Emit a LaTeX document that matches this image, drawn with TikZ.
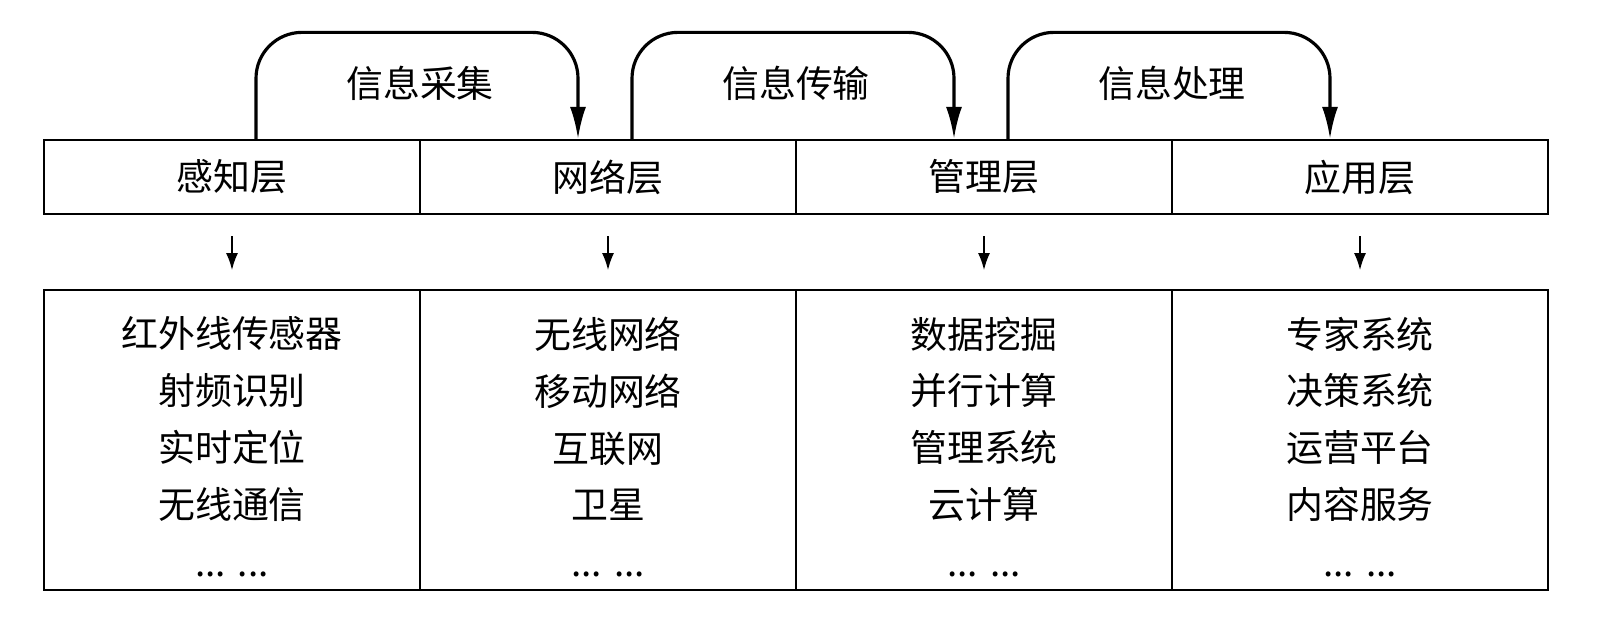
\documentclass[tikz,border=0pt]{standalone}
\usepackage{fontspec}
\newfontfamily\cjk{Noto Sans CJK SC}
\usepackage{tikz}
\usetikzlibrary{arrows.meta,positioning,calc}

\begin{document}
\begin{tikzpicture}[
  x=1cm,y=1cm,
  font=\cjk\fontsize{10.5pt}{16.2pt}\selectfont,
  layer/.style={draw, line width=0.5pt, minimum width=3.76cm, minimum height=0.745cm, inner sep=0pt},
  techbox/.style={draw, line width=0.5pt, minimum width=3.76cm, minimum height=3.0cm, inner sep=0pt},
  techlist/.style={inner sep=0pt, align=center},
  flow/.style={-{Latex[length=3.2mm,width=1.6mm]}, line width=0.9pt, rounded corners=4.6mm},
  down/.style={-{Latex[length=1.7mm,width=1.2mm]}, line width=0.5pt},
  tag/.style={inner sep=0pt}
]
\useasboundingbox (0,0) rectangle (16.14,6.17);

% The four layers, side by side.
\node[layer] (perc) at (2.32,4.40) {感知层};
\node[layer] (net)  at (6.08,4.40) {网络层};
\node[layer] (mgmt) at (9.84,4.40) {管理层};
\node[layer] (app)  at (13.60,4.40) {应用层};

% What each layer is made of.
\node[techbox] (percB) at (2.32,1.77) {};
\node[techbox] (netB)  at (6.08,1.77) {};
\node[techbox] (mgmtB) at (9.84,1.77) {};
\node[techbox] (appB)  at (13.60,1.77) {};

\node[techlist] (percL) at ([yshift=-0.7mm]percB.center) {红外线传感器\\射频识别\\实时定位\\无线通信\\[0.1mm]...\hspace{1.2mm}...};
\node[techlist] (netL)  at ([yshift=-0.7mm]netB.center)  {无线网络\\移动网络\\互联网\\卫星\\[0.1mm]...\hspace{1.2mm}...};
\node[techlist] (mgmtL) at ([yshift=-0.7mm]mgmtB.center) {数据挖掘\\并行计算\\管理系统\\云计算\\[0.1mm]...\hspace{1.2mm}...};
\node[techlist] (appL)  at ([yshift=-0.7mm]appB.center)  {专家系统\\决策系统\\运营平台\\内容服务\\[0.1mm]...\hspace{1.2mm}...};

\draw[down] ([yshift=-2.1mm]perc.south) -- ([yshift=1.9mm]percB.north);
\draw[down] ([yshift=-2.1mm]net.south)  -- ([yshift=1.9mm]netB.north);
\draw[down] ([yshift=-2.1mm]mgmt.south) -- ([yshift=1.9mm]mgmtB.north);
\draw[down] ([yshift=-2.1mm]app.south)  -- ([yshift=1.9mm]appB.north);

% Information flows from one layer into the next.
\draw[flow] ([xshift=2.4mm]perc.north) -- ++(0,1.065) -| ([xshift=-3mm]net.north);
\draw[flow] ([xshift=2.4mm]net.north)  -- ++(0,1.065) -| ([xshift=-3mm]mgmt.north);
\draw[flow] ([xshift=2.4mm]mgmt.north) -- ++(0,1.065) -| ([xshift=-3mm]app.north);

\node[tag] (collect)  at (4.20,5.34) {信息采集};
\node[tag] (transfer) at (7.96,5.34) {信息传输};
\node[tag] (process)  at (11.72,5.34) {信息处理};
\end{tikzpicture}
\end{document}
